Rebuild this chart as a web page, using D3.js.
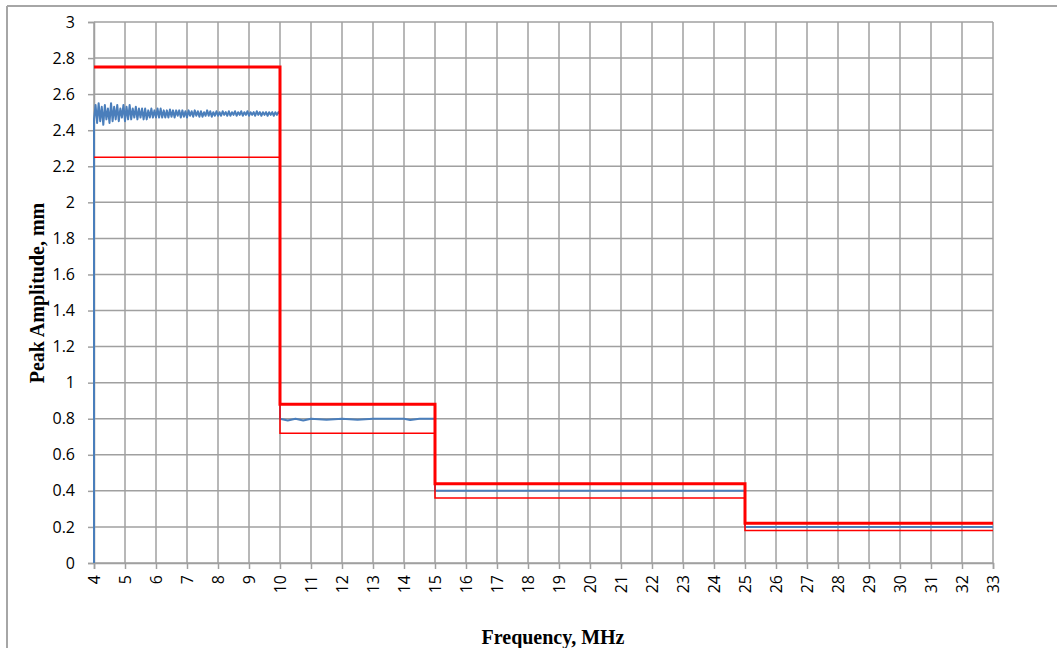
<!DOCTYPE html>
<html>
<head>
<meta charset="utf-8">
<script src="https://cdn.jsdelivr.net/npm/d3@7/dist/d3.min.js"></script>
<style>
  html, body { margin: 0; padding: 0; background: #fff; }
  svg { display: block; }
</style>
</head>
<body>
<svg id="chart" width="1057" height="648"></svg>
<script>
// ---------- data ----------
const xTicks = d3.range(4, 34);                  // 4 ... 33 MHz
const yTicks = [0, 0.2, 0.4, 0.6, 0.8, 1, 1.2, 1.4, 1.6, 1.8, 2, 2.2, 2.4, 2.6, 2.8, 3];

// upper limit (thick red)
const upperFreq = [4, 10, 10, 15, 15, 25, 25, 33];
const upperAmp  = [2.75, 2.75, 0.88, 0.88, 0.44, 0.44, 0.22, 0.22];

// lower limit (thin red)
const lowerFreq = [4, 10, 10, 15, 15, 25, 25, 33];
const lowerAmp  = [2.25, 2.25, 0.72, 0.72, 0.36, 0.36, 0.18, 0.18];

// measured response (blue), band 4-10 MHz sampled every 0.05 MHz
const band1Start = 4, band1Step = 0.05;
const band1Amp = [
  2.46, 2.54, 2.44, 2.55, 2.45, 2.53, 2.43, 2.54, 2.46, 2.52,
  2.44, 2.55, 2.45, 2.53, 2.46, 2.54, 2.45, 2.52, 2.47, 2.54,
  2.45, 2.53, 2.46, 2.54, 2.46, 2.52, 2.47, 2.53, 2.46, 2.52,
  2.47, 2.52, 2.46, 2.52, 2.46, 2.51, 2.47, 2.52, 2.47, 2.51,
  2.47, 2.52, 2.47, 2.52, 2.47, 2.51, 2.47, 2.51, 2.47, 2.515,
  2.475, 2.51, 2.47, 2.51, 2.48, 2.51, 2.47, 2.51, 2.475, 2.505,
  2.47, 2.51, 2.48, 2.505, 2.475, 2.51, 2.48, 2.505, 2.475, 2.505,
  2.475, 2.50, 2.48, 2.51, 2.48, 2.505, 2.475, 2.50, 2.48, 2.505,
  2.48, 2.50, 2.48, 2.505, 2.485, 2.50, 2.48, 2.505, 2.48, 2.50,
  2.485, 2.505, 2.48, 2.50, 2.485, 2.505, 2.48, 2.50, 2.485, 2.505,
  2.48, 2.50, 2.485, 2.50, 2.48, 2.505, 2.485, 2.50, 2.48, 2.50,
  2.485, 2.50, 2.48, 2.50, 2.485, 2.50, 2.48, 2.50, 2.485, 2.50, 2.49
];
// bands 10-15, 15-25, 25-33 MHz
const band2Freq = [10, 10.25, 10.5, 10.75, 11, 11.5, 12, 12.5, 13, 13.5, 14, 14.2, 14.5, 15];
const band2Amp  = [0.80, 0.79, 0.80, 0.79, 0.80, 0.795, 0.80, 0.795, 0.80, 0.80, 0.80, 0.793, 0.80, 0.80];
const band3Freq = [15, 16, 17, 18, 19, 20, 21, 22, 23, 24, 25];
const band3Amp  = [0.40, 0.40, 0.40, 0.40, 0.40, 0.40, 0.40, 0.40, 0.40, 0.40, 0.40];
const band4Freq = [25, 27, 29, 31, 33];
const band4Amp  = [0.20, 0.20, 0.20, 0.20, 0.20];

// ---------- build ----------
const zip = (xs, ys) => xs.map((v, i) => [v, ys[i]]);
const blue = [[band1Start, 0]]
  .concat(band1Amp.map((v, i) => [band1Start + i * band1Step, v]))
  .concat(zip(band2Freq, band2Amp), zip(band3Freq, band3Amp), zip(band4Freq, band4Amp));
const upper = zip(upperFreq, upperAmp);
const lower = zip(lowerFreq, lowerAmp);

const svg = d3.select("#chart");
const M = { left: 94, right: 993, top: 22, bottom: 563 };
const x = d3.scaleLinear().domain([4, 33]).range([M.left, M.right]);
const y = d3.scaleLinear().domain([0, 3]).range([M.bottom, M.top]);
const gridCol = "#a0a0a0";

// frame of the chart object
svg.append("line").attr("x1", 7).attr("x2", 1057).attr("y1", 6).attr("y2", 6)
  .attr("stroke", "#a6a6a6").attr("stroke-width", 2);
svg.append("line").attr("x1", 7).attr("x2", 7).attr("y1", 6).attr("y2", 648)
  .attr("stroke", "#a6a6a6").attr("stroke-width", 2);

// gridlines
svg.append("g").selectAll("line").data(xTicks).join("line")
  .attr("x1", d => x(d)).attr("x2", d => x(d)).attr("y1", M.top).attr("y2", M.bottom)
  .attr("stroke", gridCol).attr("stroke-width", 1.5);
svg.append("g").selectAll("line").data(yTicks).join("line")
  .attr("x1", M.left).attr("x2", M.right).attr("y1", d => y(d)).attr("y2", d => y(d))
  .attr("stroke", gridCol).attr("stroke-width", 1.5);

// axes
const yAxis = d3.axisLeft(y).tickValues(yTicks).tickSize(6).tickPadding(13)
  .tickFormat(d => String(+d.toFixed(1)));
const gy = svg.append("g").attr("transform", `translate(${M.left},0)`).call(yAxis);
gy.select(".domain").attr("stroke", gridCol).attr("stroke-width", 1.5);
gy.selectAll(".tick line").attr("stroke", gridCol).attr("stroke-width", 1.5);
gy.selectAll("text").attr("font-family", "'Open Sans', sans-serif").attr("font-size", 16)
  .attr("fill", "#000");

const xAxis = d3.axisBottom(x).tickValues(xTicks).tickSize(6).tickFormat(d3.format("d"));
const gx = svg.append("g").attr("transform", `translate(0,${M.bottom})`).call(xAxis);
gx.select(".domain").attr("stroke", gridCol).attr("stroke-width", 1.5);
gx.selectAll(".tick line").attr("stroke", gridCol).attr("stroke-width", 1.5);
gx.selectAll("text")
  .attr("font-family", "'Open Sans', sans-serif").attr("font-size", 16).attr("fill", "#000")
  .attr("transform", "rotate(-90)")
  .attr("text-anchor", "end")
  .attr("x", -12).attr("y", 0).attr("dy", "0.35em");

// series
const line = d3.line().x(d => x(d[0])).y(d => y(d[1]));
svg.append("path").datum(blue).attr("d", line)
  .attr("fill", "none").attr("stroke", "#4a7ebb").attr("stroke-width", 2)
  .attr("stroke-linejoin", "round");
svg.append("path").datum(lower).attr("d", line)
  .attr("fill", "none").attr("stroke", "#ff0000").attr("stroke-width", 1.5);
svg.append("path").datum(upper).attr("d", line)
  .attr("fill", "none").attr("stroke", "#ff0000").attr("stroke-width", 3);

// axis titles
svg.append("text").text("Frequency, MHz")
  .attr("x", 553).attr("y", 644).attr("text-anchor", "middle")
  .attr("font-family", "'Liberation Serif', 'Times New Roman', serif")
  .attr("font-weight", "bold").attr("font-size", 20).attr("fill", "#000");
svg.append("text").text("Peak Amplitude, mm")
  .attr("transform", "translate(44,293) rotate(-90)").attr("text-anchor", "middle")
  .attr("font-family", "'Liberation Serif', 'Times New Roman', serif")
  .attr("font-weight", "bold").attr("font-size", 20).attr("fill", "#000");
</script>
</body>
</html>
